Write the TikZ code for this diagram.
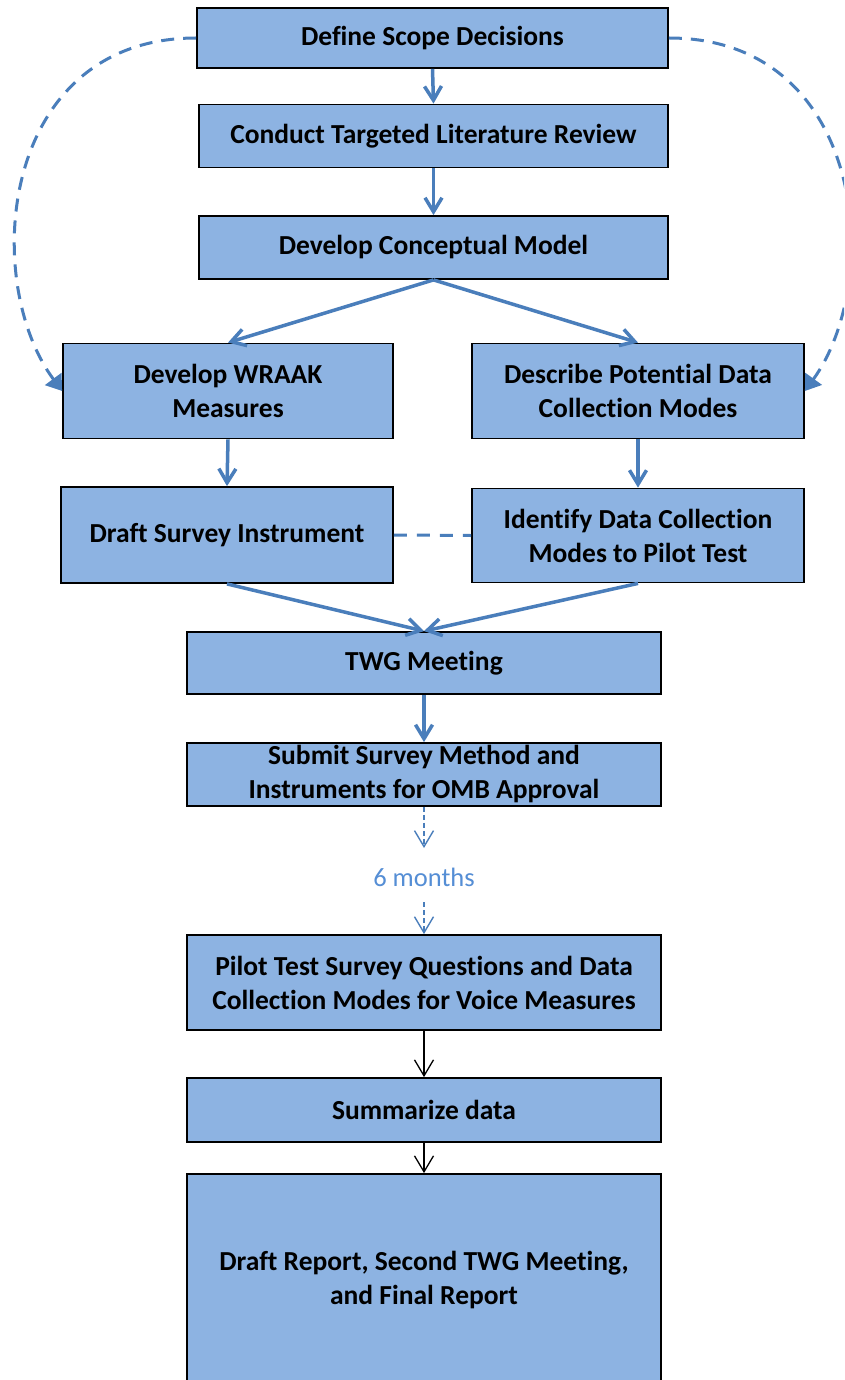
\documentclass[tikz,border=0pt]{standalone}
\usepackage{fontspec}
\setmainfont[Ligatures={NoCommon}]{Carlito}
\usetikzlibrary{arrows.meta}
\definecolor{boxfill}{RGB}{141,179,226}
\definecolor{arrowblue}{RGB}{74,126,187}
\definecolor{textblue}{RGB}{85,142,213}
\tikzset{
  box/.style={draw=black, line width=1.8pt, fill=boxfill, align=center, inner sep=0pt,
    font=\fontsize{27.5}{34}\selectfont\bfseries},
  bluearrow/.style={draw=arrowblue, line width=3.5pt, -{Straight Barb[length=14pt,width=17pt]}},
  dashcurve/.style={draw=arrowblue, line width=3pt, dash pattern=on 13pt off 9pt,
    -{Triangle[length=15pt,width=20pt]}},
  dashlink/.style={draw=arrowblue, line width=3pt, dash pattern=on 13pt off 10pt},
  thindash/.style={draw=arrowblue, line width=1.4pt, dash pattern=on 5pt off 3pt,
    -{Straight Barb[length=16pt,width=19pt]}},
  blackarrow/.style={draw=black, line width=1.3pt, -{Straight Barb[length=16pt,width=19pt]}}
}
\begin{document}
\begin{tikzpicture}[x=1pt,y=-1pt]
\clip (0,0) rectangle (844,1380);
\useasboundingbox (0,0) rectangle (844,1380);
\fill[white] (0,0) rectangle (844,1380);

\node[box, minimum width=471pt, minimum height=60pt] (n1) at (432.5,38) {Define Scope Decisions};
\node[box, minimum width=469pt, minimum height=63pt] (n2) at (433.5,136) {Conduct Targeted Literature Review};
\node[box, minimum width=469pt, minimum height=63pt] (n3) at (433.5,247.5) {Develop Conceptual Model};
\node[box, minimum width=330pt, minimum height=95pt] (n4) at (228,391) {Develop WRAAK\\Measures};
\node[box, minimum width=332pt, minimum height=95pt] (n5) at (638,391) {Describe Potential Data\\Collection Modes};
\node[box, minimum width=332pt, minimum height=96pt] (n6) at (227,535) {Draft Survey Instrument};
\node[box, minimum width=332pt, minimum height=94pt] (n7) at (638,535.5) {Identify Data Collection\\Modes to Pilot Test};
\node[box, minimum width=474pt, minimum height=62pt] (n8) at (424,663) {TWG Meeting};
\node[box, minimum width=474pt, minimum height=63pt] (n9) at (424,774.5) {Submit Survey Method and\\Instruments for OMB Approval};
\node[text=textblue, font=\fontsize{26.5}{30}\selectfont, inner sep=2pt] (m6) at (424,877) {6 months};
\node[box, minimum width=474pt, minimum height=95pt] (n11) at (424,982.5) {Pilot Test Survey Questions and Data\\Collection Modes for Voice Measures};
\node[box, minimum width=474pt, minimum height=64pt] (n12) at (424,1110) {Summarize data};
\node[box, minimum width=474pt, minimum height=212pt] (n13) at (424,1280) {Draft Report, Second TWG Meeting,\\and Final Report};

\coordinate (m6top) at (424,848);
\coordinate (m6bot) at (424,902);

\draw[bluearrow] (n1.south) -- (n2.north);
\draw[bluearrow] (n2.south) -- (n3.north);
\draw[bluearrow] (n3.south) -- (n4.north);
\draw[bluearrow] (n3.south) -- (n5.north);
\draw[bluearrow] (n4.south) -- (n6.north);
\draw[bluearrow] (n5.south) -- (n7.north);
\draw[bluearrow] (n6.south) -- (n8.north);
\draw[bluearrow] (n7.south) -- (n8.north);
\draw[bluearrow] (n8.south) -- (n9.north);

\draw[dashlink] (n6.east) -- (n7.west);

\draw[dashcurve] (n1.west) .. controls (0,38) and (-20,280) .. (n4.west);
\draw[dashcurve] (n1.east) .. controls (865,38) and (885,280) .. (n5.east);

\draw[thindash] (n9.south) -- (m6top);
\draw[thindash] (m6bot) -- (n11.north);

\draw[blackarrow] (n11.south) -- (n12.north);
\draw[blackarrow] (n12.south) -- (n13.north);
\end{tikzpicture}
\end{document}
